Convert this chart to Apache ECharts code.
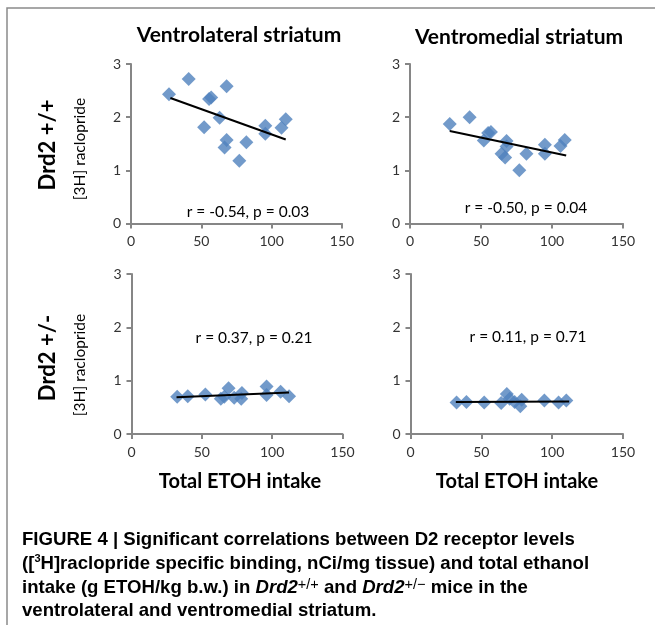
<!DOCTYPE html>
<html>
<head>
<meta charset="utf-8">
<script src="https://cdn.jsdelivr.net/npm/echarts@6/dist/echarts.min.js"></script>
<style>
  html, body { margin: 0; padding: 0; background: #fff; }
  #main { width: 655px; height: 625px; }
</style>
</head>
<body>
<div id="main"></div>
<script>
// 数据：[ETOH 摄入量, [3H] raclopride]
var vlWT = [[27, 2.43], [41, 2.72], [52, 1.81], [55.5, 2.34], [57, 2.37], [63, 1.99], [68, 2.58],
  [68, 1.57], [66.5, 1.43], [77, 1.18], [82, 1.53], [95.5, 1.84], [95.5, 1.69], [107, 1.80], [110, 1.96]];
var vmWT = [[28, 1.87], [42, 2.0], [52, 1.56], [55, 1.70], [57, 1.72], [64.5, 1.31], [67, 1.24],
  [68, 1.55], [68, 1.45], [77, 1.0], [82, 1.31], [95, 1.48], [95, 1.31], [106, 1.46], [109, 1.57]];
var vlHet = [[32.5, 0.70], [40, 0.71], [52.5, 0.74], [63.5, 0.66], [66, 0.70], [69, 0.86], [73, 0.68],
  [78.5, 0.77], [78, 0.66], [96, 0.89], [96, 0.73], [106, 0.79], [112, 0.71]];
var vmHet = [[32.5, 0.59], [39.5, 0.60], [52, 0.59], [64, 0.58], [68, 0.75], [70, 0.66], [73.5, 0.60],
  [77.5, 0.52], [78.5, 0.64], [94.5, 0.63], [104.5, 0.59], [110, 0.63]];

// 趋势线两端
var vlWTFit = [[28, 2.36], [110, 1.58]];
var vmWTFit = [[28, 1.74], [110, 1.28]];
var vlHetFit = [[32, 0.69], [112, 0.78]];
var vmHetFit = [[32, 0.60], [112, 0.61]];

var statLabels = ['r = -0.54, p = 0.03', 'r = -0.50, p = 0.04', 'r = 0.37, p = 0.21', 'r = 0.11, p = 0.71'];
var colTitles = ['Ventrolateral striatum', 'Ventromedial striatum'];
var rowTitles = ['Drd2 +/+', 'Drd2 +/-'];
var yName = '[3H] raclopride';
var xName = 'Total ETOH intake';

var calibri = 'Lato, "Open Sans", sans-serif';
var axisGray = '#868686';
var blue = '#4F81BD';

var grids = [
  { left: 131, top: 64, width: 211, height: 159.5 },
  { left: 410, top: 64, width: 213, height: 159.5 },
  { left: 131.5, top: 274, width: 211, height: 160 },
  { left: 410.5, top: 274, width: 212.5, height: 160 }
];

function xAxisOf(i) {
  return {
    gridIndex: i, type: 'value', min: 0, max: 150, interval: 50,
    axisLine: { lineStyle: { color: axisGray, width: 2 } },
    axisTick: { show: true, length: 5, lineStyle: { color: axisGray, width: 2 } },
    axisLabel: { color: '#333', fontFamily: calibri, fontSize: 14, margin: 11 },
    splitLine: { show: false }
  };
}
function yAxisOf(i) {
  return {
    gridIndex: i, type: 'value', min: 0, max: 3, interval: 1,
    axisLine: { show: true, lineStyle: { color: axisGray, width: 2 } },
    axisTick: { show: true, length: 5, lineStyle: { color: axisGray, width: 2 } },
    axisLabel: { color: '#333', fontFamily: calibri, fontSize: 14, margin: 10 },
    splitLine: { show: false }
  };
}

var points = [vlWT, vmWT, vlHet, vmHet];
var fits = [vlWTFit, vmWTFit, vlHetFit, vmHetFit];
var series = [];
points.forEach(function (d, i) {
  series.push({
    type: 'scatter', xAxisIndex: i, yAxisIndex: i, data: d,
    symbol: 'diamond', symbolSize: 14, itemStyle: { color: blue }, z: 2
  });
  series.push({
    type: 'line', xAxisIndex: i, yAxisIndex: i, data: fits[i],
    showSymbol: false, lineStyle: { color: '#000', width: 2 }, z: 3
  });
});

function txt(x, y, text, size, bold, rot) {
  return {
    type: 'text', x: x, y: y, rotation: rot || 0, z: 10,
    style: {
      text: text, fill: '#000', textAlign: 'center', textVerticalAlign: 'middle',
      font: (bold ? 'bold ' : '') + size + 'px ' + calibri
    }
  };
}

var capFont = '"Liberation Sans", Arial, sans-serif';
var capRich = {
  b: { fontFamily: capFont, fontWeight: 'bold', fontSize: 18.6, lineHeight: 22, fill: '#000' },
  i: { fontFamily: capFont, fontWeight: 'bold', fontStyle: 'italic', fontSize: 18.6, lineHeight: 22 },
  s3: { fontFamily: capFont, fontWeight: 'bold', fontSize: 11, lineHeight: 11, verticalAlign: 'top' },
  sp: { fontFamily: capFont, fontWeight: 'normal', fontSize: 14.5, lineHeight: 14, verticalAlign: 'top' }
};
var capLines = [
  '{b|FIGURE 4 | Significant correlations between D2 receptor levels}',
  '{b|([}{s3|3}{b|H]raclopride specific binding, nCi/mg tissue) and total ethanol}',
  '{b|intake (g ETOH/kg b.w.) in }{i|Drd2}{sp|+/+}{b| and }{i|Drd2}{sp|+/\u2212}{b| mice in the}',
  '{b|ventrolateral and ventromedial striatum.}'
];
var capY = [540, 564, 588, 611];

var graphic = [
  { type: 'polyline', shape: { points: [[7, 625], [7, 8], [655, 8]] },
    style: { stroke: '#8a8a8a', lineWidth: 1.5, fill: null } },
  txt(239, 35, colTitles[0], 21, true),
  txt(519, 37, colTitles[1], 21, true),
  txt(240, 482, xName, 20, true),
  txt(517, 482, xName, 20, true),
  txt(48, 145, rowTitles[0], 22, true, Math.PI / 2),
  txt(48, 358, rowTitles[1], 22, true, Math.PI / 2),
  txt(80, 149, yName, 15.5, false, Math.PI / 2),
  txt(80, 365, yName, 15.5, false, Math.PI / 2),
  txt(248, 212, statLabels[0], 15.5, false),
  txt(526, 208, statLabels[1], 15.5, false),
  txt(254, 338, statLabels[2], 15.5, false),
  txt(528, 337, statLabels[3], 15.5, false)
];
capLines.forEach(function (l, i) {
  graphic.push({
    type: 'text', x: 22, y: capY[i], z: 10,
    style: { text: l, rich: capRich, fill: '#000', font: 'bold 18.6px ' + capFont, textVerticalAlign: 'middle' }
  });
});

var chart = echarts.init(document.getElementById('main'));
chart.setOption({
  animation: false,
  backgroundColor: '#fff',
  grid: grids,
  xAxis: [0, 1, 2, 3].map(xAxisOf),
  yAxis: [0, 1, 2, 3].map(yAxisOf),
  series: series,
  graphic: graphic
});
</script>
</body>
</html>
